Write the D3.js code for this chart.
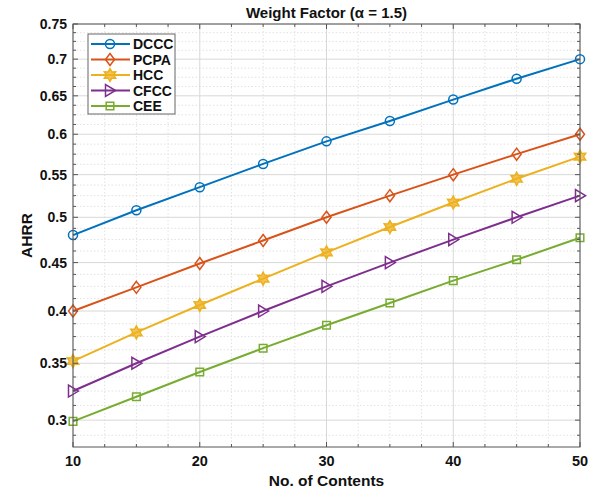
<!DOCTYPE html>
<html>
<head>
<meta charset="utf-8">
<script src="https://cdn.jsdelivr.net/npm/d3@7"></script>
<style>
  body { margin: 0; background: #fff; }
  svg { font-family: "Liberation Sans", Arial, sans-serif; }
</style>
</head>
<body>
<svg id="chart" width="594" height="490"></svg>
<script>
// data
const contents = [10, 15, 20, 25, 30, 35, 40, 45, 50]
const dccc = [0.48, 0.508, 0.535, 0.563, 0.591, 0.617, 0.645, 0.673, 0.70]
const pcpa = [0.40, 0.424, 0.449, 0.474, 0.50, 0.525, 0.55, 0.575, 0.60]
const hcc  = [0.352, 0.379, 0.406, 0.433, 0.461, 0.489, 0.517, 0.545, 0.572]
const cfcc = [0.325, 0.35, 0.375, 0.40, 0.425, 0.45, 0.475, 0.50, 0.525]
const cee  = [0.299, 0.32, 0.342, 0.364, 0.386, 0.408, 0.431, 0.453, 0.477]

const seriesNames = ["DCCC", "PCPA", "HCC", "CFCC", "CEE"]
const xTicks = [10, 20, 30, 40, 50]
const xMinor = [12.5, 15, 17.5, 22.5, 25, 27.5, 32.5, 35, 37.5, 42.5, 45, 47.5]
const yTicks = [0.3, 0.35, 0.4, 0.45, 0.5, 0.55, 0.6, 0.65, 0.7, 0.75]
const yMinor = [0.2875, 0.3125, 0.325, 0.3375, 0.3625, 0.375, 0.3875, 0.4125, 0.425, 0.4375,
  0.4625, 0.475, 0.4875, 0.5125, 0.525, 0.5375, 0.5625, 0.575, 0.5875, 0.6125, 0.625, 0.6375,
  0.6625, 0.675, 0.6875, 0.7125, 0.725, 0.7375]

const series = [
  { name: seriesNames[0], values: dccc, color: "#0072BD", marker: "circle" },
  { name: seriesNames[1], values: pcpa, color: "#D95319", marker: "diamond" },
  { name: seriesNames[2], values: hcc,  color: "#EDB120", marker: "hexagram" },
  { name: seriesNames[3], values: cfcc, color: "#7E2F8E", marker: "triangle" },
  { name: seriesNames[4], values: cee,  color: "#77AC30", marker: "square" }
]

const pLeft = 73, pRight = 580, pTop = 24, pBottom = 447

const x = d3.scaleLinear().domain([10, 50]).range([pLeft, pRight])
const y = d3.scalePow().exponent(0.4).domain([0.278, 0.75]).range([pBottom, pTop])

const svg = d3.select("#chart")

// grid
const grid = svg.append("g")
grid.selectAll(".gxm").data(xMinor).join("line")
  .attr("x1", d => x(d)).attr("x2", d => x(d)).attr("y1", pTop).attr("y2", pBottom)
  .attr("stroke", "#e2e2e2").attr("stroke-dasharray", "1.5,2")
grid.append("g").selectAll("line").data(yMinor).join("line")
  .attr("y1", d => y(d)).attr("y2", d => y(d)).attr("x1", pLeft).attr("x2", pRight)
  .attr("stroke", "#e2e2e2").attr("stroke-dasharray", "1.5,2")
grid.append("g").selectAll("line").data(xTicks).join("line")
  .attr("x1", d => x(d)).attr("x2", d => x(d)).attr("y1", pTop).attr("y2", pBottom)
  .attr("stroke", "#d8d8d8")
grid.append("g").selectAll("line").data(yTicks).join("line")
  .attr("y1", d => y(d)).attr("y2", d => y(d)).attr("x1", pLeft).attr("x2", pRight)
  .attr("stroke", "#d8d8d8")

// marker shapes
function markerPath(type) {
  if (type === "circle") return d3.symbol(d3.symbolCircle, 64)()
  if (type === "diamond") return "M0,-6L4.5,0L0,6L-4.5,0Z"
  if (type === "square") return "M-3.8,-3.8H3.8V3.8H-3.8Z"
  if (type === "triangle") return "M5.5,0L-4.5,-6L-4.5,6Z"
  if (type === "hexagram") {
    const pts = []
    for (let i = 0; i < 12; i++) {
      const r = i % 2 === 0 ? 6.5 : 3.6
      const a = Math.PI / 6 * i - Math.PI / 2
      pts.push([r * Math.cos(a), r * Math.sin(a)])
    }
    return "M" + pts.join("L") + "Z"
  }
}

const line = d3.line().x((d, i) => x(contents[i])).y(d => y(d))

series.forEach(s => {
  svg.append("path")
    .attr("d", line(s.values))
    .attr("fill", "none")
    .attr("stroke", s.color)
    .attr("stroke-width", 2)
  svg.append("g").selectAll("path").data(s.values).join("path")
    .attr("transform", (d, i) => `translate(${x(contents[i])},${y(d)})`)
    .attr("d", markerPath(s.marker))
    .attr("fill", s.marker === "hexagram" ? s.color : "none")
    .attr("fill-opacity", s.marker === "hexagram" ? 0.75 : 1)
    .attr("stroke", s.color)
    .attr("stroke-width", 1.5)
})

// axes box with inward ticks on all sides
const axisColor = "#555"
const axes = svg.append("g")
axes.append("rect")
  .attr("x", pLeft).attr("y", pTop).attr("width", pRight - pLeft).attr("height", pBottom - pTop)
  .attr("fill", "none").attr("stroke", axisColor).attr("stroke-width", 1)

const xAll = xTicks.map(v => [v, 5]).concat(xMinor.map(v => [v, 3]))
axes.append("g").selectAll("line").data(xAll).join("line")
  .attr("x1", d => x(d[0])).attr("x2", d => x(d[0]))
  .attr("y1", pBottom).attr("y2", d => pBottom - d[1])
  .attr("stroke", axisColor)
axes.append("g").selectAll("line").data(xAll).join("line")
  .attr("x1", d => x(d[0])).attr("x2", d => x(d[0]))
  .attr("y1", pTop).attr("y2", d => pTop + d[1])
  .attr("stroke", axisColor)
const yAll = yTicks.map(v => [v, 5]).concat(yMinor.map(v => [v, 3]))
axes.append("g").selectAll("line").data(yAll).join("line")
  .attr("y1", d => y(d[0])).attr("y2", d => y(d[0]))
  .attr("x1", pLeft).attr("x2", d => pLeft + d[1])
  .attr("stroke", axisColor)
axes.append("g").selectAll("line").data(yAll).join("line")
  .attr("y1", d => y(d[0])).attr("y2", d => y(d[0]))
  .attr("x1", pRight).attr("x2", d => pRight - d[1])
  .attr("stroke", axisColor)

// tick labels
svg.append("g").selectAll("text").data(xTicks).join("text")
  .attr("x", d => x(d)).attr("y", 466)
  .attr("text-anchor", "middle")
  .attr("font-size", 14.5).attr("font-weight", "bold").attr("fill", "#111")
  .text(d => d)
svg.append("g").selectAll("text").data(yTicks).join("text")
  .attr("x", 67).attr("y", d => y(d) + 5)
  .attr("text-anchor", "end")
  .attr("font-size", 14).attr("font-weight", "bold").attr("fill", "#111")
  .text(d => d)

// titles
svg.append("text")
  .attr("x", (pLeft + pRight) / 2).attr("y", 18)
  .attr("text-anchor", "middle")
  .attr("font-size", 15).attr("font-weight", "bold").attr("fill", "#111")
  .text("Weight Factor (α = 1.5)")
svg.append("text")
  .attr("x", (pLeft + pRight) / 2).attr("y", 486)
  .attr("text-anchor", "middle")
  .attr("font-size", 15.5).attr("font-weight", "bold").attr("fill", "#111")
  .text("No. of Contents")
svg.append("text")
  .attr("transform", `translate(32,${(pTop + pBottom) / 2}) rotate(-90)`)
  .attr("text-anchor", "middle")
  .attr("font-size", 15.5).attr("font-weight", "bold").attr("fill", "#111")
  .text("AHRR")

// legend
const lg = svg.append("g").attr("transform", "translate(88,34)")
lg.append("rect")
  .attr("width", 87).attr("height", 80)
  .attr("fill", "#fff").attr("stroke", "#666")
const rows = lg.selectAll("g").data(series).join("g")
  .attr("transform", (d, i) => `translate(0,${10 + i * 15.5})`)
rows.append("line")
  .attr("x1", 3).attr("x2", 42)
  .attr("stroke", d => d.color).attr("stroke-width", 2)
rows.append("path")
  .attr("transform", "translate(22,0)")
  .attr("d", d => markerPath(d.marker))
  .attr("fill", d => d.marker === "hexagram" ? d.color : "none")
  .attr("fill-opacity", d => d.marker === "hexagram" ? 0.75 : 1)
  .attr("stroke", d => d.color)
  .attr("stroke-width", 1.5)
rows.append("text")
  .attr("x", 45).attr("y", 5)
  .attr("font-size", 14).attr("font-weight", "bold").attr("fill", "#111")
  .text(d => d.name)
</script>
</body>
</html>
